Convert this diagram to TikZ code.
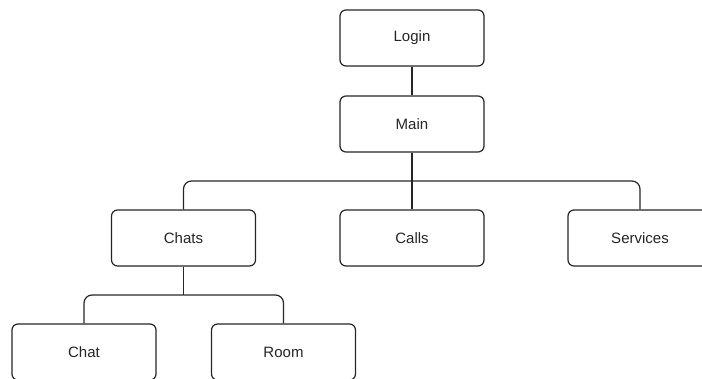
\documentclass[tikz,border=0pt]{standalone}
\usepackage{fontspec}
\setmainfont{Liberation Sans}
\begin{document}
\begin{tikzpicture}[x=1pt,y=-1pt,
  screen/.style={draw=black!85, line width=1.2pt, rounded corners=6pt, fill=white,
    minimum width=144pt, minimum height=56pt, inner sep=0pt,
    font=\fontsize{15}{18}\selectfont, text=black!85},
  link/.style={draw=black!85, line width=1.2pt},
  branch/.style={link, rounded corners=8pt}]
  \useasboundingbox (0,0) rectangle (702,378);
  % screens
  \node[screen] (login)    at (412,38)    {Login};
  \node[screen] (main)     at (412,124)   {Main};
  \node[screen] (chats)    at (183.5,238) {Chats};
  \node[screen] (calls)    at (412,238)   {Calls};
  \node[screen] (services) at (640,238)   {Services};
  \node[screen] (chat)     at (84,352)    {Chat};
  \node[screen] (room)     at (283.5,352) {Room};
  % bus junctions
  \coordinate (busA) at (412,181);
  \coordinate (busB) at (183.5,295);
  % navigation links
  \draw[link] (login) -- (main);
  \draw[link] (main) -- (calls);
  \draw[branch] (busA) -| (chats.north);
  \draw[branch] (busA) -| (services.north);
  \draw[link] (chats) -- (busB);
  \draw[branch] (busB) -| (chat.north);
  \draw[branch] (busB) -| (room.north);
\end{tikzpicture}
\end{document}
